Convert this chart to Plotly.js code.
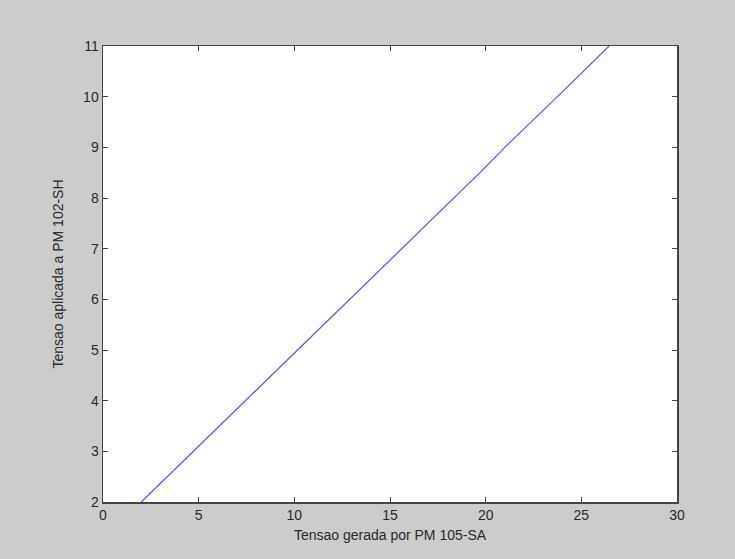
<!DOCTYPE html>
<html>
<head>
<meta charset="utf-8">
<script src="https://cdn.plot.ly/plotly-3.0.1.min.js"></script>
<style>
html,body{margin:0;padding:0;background:#cccccc;}
#chart{width:735px;height:559px;}
</style>
</head>
<body>
<div id="chart"></div>
<script>
// Tensao gerada por PM 105-SA (x) vs Tensao aplicada a PM 102-SH (y)
const tensaoGerada = [2.0, 3.36, 4.7, 6.1, 7.45, 8.8, 10.15, 11.5, 12.85, 14.25, 15.6, 16.95, 18.3, 19.7, 21.0, 22.4, 23.75, 25.1, 26.45];
const tensaoAplicada = [2.0, 2.5, 3.0, 3.5, 4.0, 4.5, 5.0, 5.5, 6.0, 6.5, 7.0, 7.5, 8.0, 8.5, 9.0, 9.5, 10.0, 10.5, 11.0];

const xTicks = [0, 5, 10, 15, 20, 25, 30];
const yTicks = [2, 3, 4, 5, 6, 7, 8, 9, 10, 11];

const font = {family: 'Liberation Sans, Arial, sans-serif', size: 14, color: '#2a2a2a'};

Plotly.newPlot('chart', [{
  x: tensaoGerada,
  y: tensaoAplicada,
  type: 'scatter',
  mode: 'lines',
  line: {color: '#5050ff', width: 1.2},
  hoverinfo: 'skip'
}], {
  width: 735, height: 559,
  paper_bgcolor: '#cccccc',
  plot_bgcolor: '#ffffff',
  margin: {l: 103, r: 58, t: 46, b: 57},
  showlegend: false,
  font: font,
  xaxis: {
    range: [0, 30], tickvals: xTicks, ticktext: xTicks.map(String),
    ticks: 'inside', ticklen: 5, tickcolor: '#444444', tickwidth: 1,
    showline: true, linecolor: '#444444', linewidth: 1.5, mirror: 'ticks',
    showgrid: false, zeroline: false,
    tickfont: font,
    title: {text: 'Tensao gerada por PM 105-SA', font: font, standoff: 8}
  },
  yaxis: {
    range: [2, 11], tickvals: yTicks, ticktext: yTicks.map(String),
    ticks: 'inside', ticklen: 5, tickcolor: '#444444', tickwidth: 1,
    showline: true, linecolor: '#444444', linewidth: 1.5, mirror: 'ticks',
    showgrid: false, zeroline: false,
    tickfont: font,
    title: {text: 'Tensao aplicada a PM 102-SH', font: font, standoff: 16}
  }
}, {displayModeBar: false, staticPlot: true});
</script>
</body>
</html>
